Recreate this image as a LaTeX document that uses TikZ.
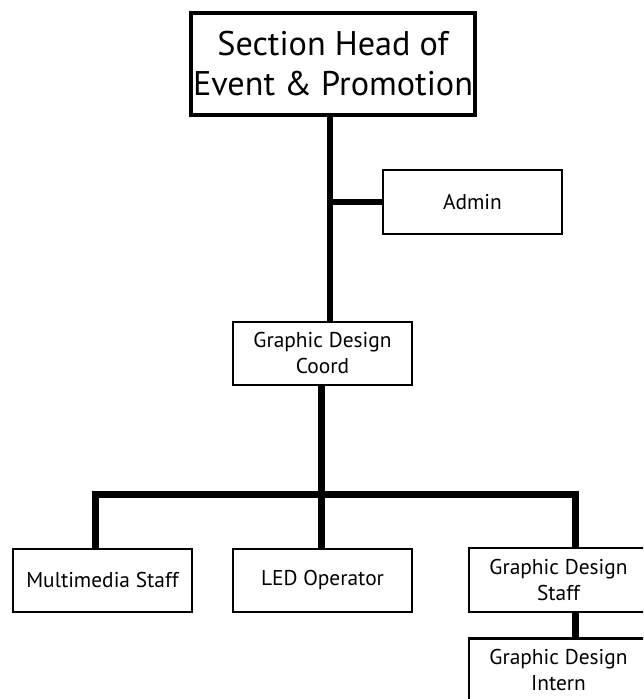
\documentclass[tikz,border=0pt]{standalone}
\usepackage{fontspec}
\setmainfont{PT Sans}
\begin{document}
\begin{tikzpicture}[x=1pt,y=-1pt,
  box/.style={draw=black,line width=2.8pt,fill=white,inner sep=0pt,
    minimum width=179pt,minimum height=63pt,align=center,
    font=\fontsize{21.4}{26}\selectfont},
  headbox/.style={draw=black,line width=4pt,fill=white,inner sep=0pt,
    minimum width=284pt,minimum height=102pt,align=center,
    font=\fontsize{34.2}{40}\selectfont},
  link/.style={draw=black,line width=6pt},
  thick link/.style={draw=black,line width=7.5pt,line join=miter,line cap=butt}]
\path[use as bounding box,clip] (0,0) rectangle (643,699);
\fill[white] (0,0) rectangle (643,699);
% nodes
\node[headbox] (head) at (333,64) {Section Head of\\Event \& Promotion};
\node[box,minimum height=64pt] (admin) at (472.5,202) {Admin};
\node[box] (coord) at (322.5,353.5) {Graphic Design\\Coord};
\node[box] (multi) at (102.5,580.5) {Multimedia Staff};
\node[box] (led) at (322.5,580.5) {LED Operator};
\node[box,minimum height=64pt] (staff) at (558.5,580) {Graphic Design\\Staff};
\node[box,minimum height=64pt] (intern) at (558.5,670.5) {Graphic Design\\Intern};
% helper coordinates
\coordinate (t) at (330,0);
\coordinate (c) at (321.5,0);
\coordinate (m) at (95.5,0);
\coordinate (s) at (575.5,0);
\coordinate (bar) at (321.5,494.5);
% connectors
\draw[link] (head.south -| t) -- (coord.north -| t);
\draw[draw=black,line width=5.5pt] (admin.west) -- (admin.west -| t);
\draw[thick link] (coord.south -| c) -- (bar);
\draw[thick link] (multi.north -| m) |- (bar) -| (staff.north -| s);
\draw[thick link] (led.north -| c) -- (bar);
\draw[thick link] (staff.south -| s) -- (intern.north -| s);
\end{tikzpicture}
\end{document}
